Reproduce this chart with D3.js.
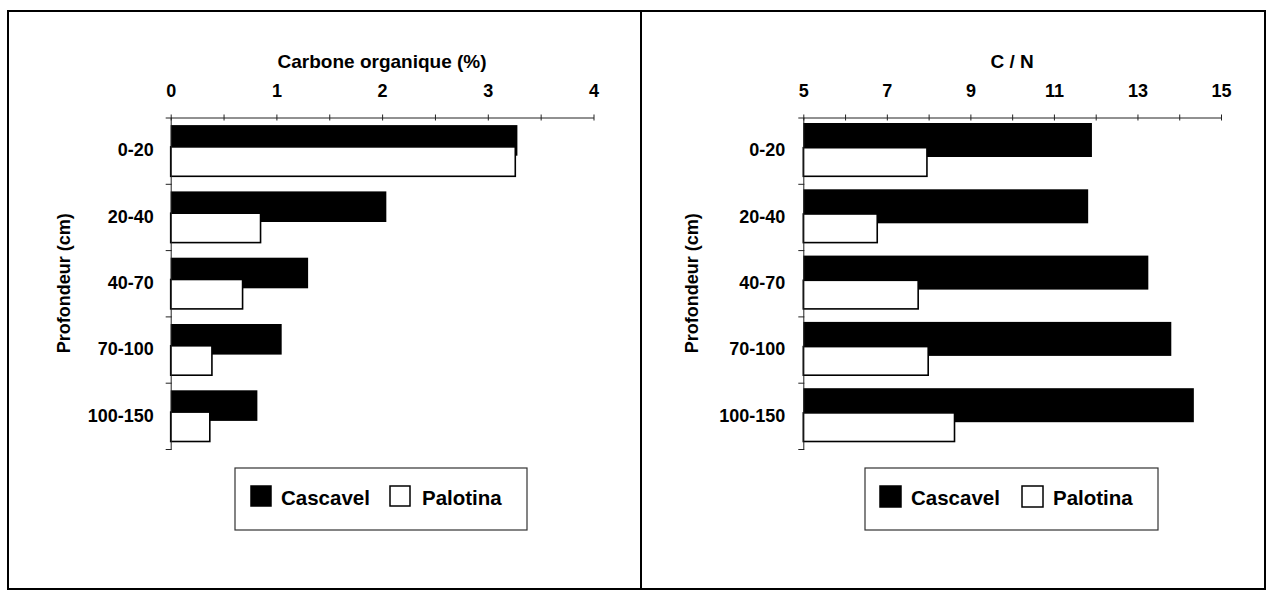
<!DOCTYPE html>
<html>
<head>
<meta charset="utf-8">
<script src="https://cdn.jsdelivr.net/npm/d3@7"></script>
<style>
  html, body { margin: 0; padding: 0; background: #fff; }
  svg { display: block; }
  text { font-family: "Liberation Sans", Arial, sans-serif; font-weight: bold; fill: #000; }
</style>
</head>
<body>
<svg id="chart" width="1273" height="597"></svg>
<script>
// ---- data ----
const categories = ["0-20", "20-40", "40-70", "70-100", "100-150"];
const seriesNames = ["Cascavel", "Palotina"];
const carboneCascavel = [3.28, 2.04, 1.30, 1.05, 0.82];
const carbonePalotina = [3.26, 0.85, 0.68, 0.39, 0.37];
const cnCascavel = [11.91, 11.82, 13.26, 13.81, 14.35];
const cnPalotina = [7.96, 6.77, 7.75, 7.99, 8.62];
const carboneTickLabels = [0, 1, 2, 3, 4];
const cnTickLabels = [5, 7, 9, 11, 13, 15];
const yTitle = "Profondeur (cm)";
const carboneTitle = "Carbone organique (%)";
const cnTitle = "C / N";

const svg = d3.select("#chart");

// outer frame + divider
svg.append("rect").attr("x", 8).attr("y", 11).attr("width", 1257).attr("height", 578)
  .attr("fill", "none").attr("stroke", "#000").attr("stroke-width", 2);
svg.append("line").attr("x1", 641).attr("x2", 641).attr("y1", 11).attr("y2", 589)
  .attr("stroke", "#000").attr("stroke-width", 2);

const plotTop = 117.5, plotBottom = 449;
const FONT = "Liberation Sans, Arial, sans-serif";

function panel(opt) {
  const g = svg.append("g");
  const x = d3.scaleLinear().domain(opt.domain).range(opt.range);
  const yb = d3.scaleBand().domain(categories).range([plotTop, plotBottom]);
  const yl = d3.scaleLinear().domain([0, categories.length]).range([plotTop, plotBottom]);
  const x0 = x(opt.domain[0]);

  // Cascavel bars (black)
  g.append("g").selectAll("rect").data(opt.casc).join("rect")
    .attr("x", x0)
    .attr("y", (d, i) => yb(categories[i]) + opt.cTop)
    .attr("width", d => x(d) - x0)
    .attr("height", opt.cH)
    .attr("fill", "#000");
  // Palotina bars (white, outlined)
  g.append("g").selectAll("rect").data(opt.palo).join("rect")
    .attr("x", x0)
    .attr("y", (d, i) => yb(categories[i]) + opt.pTop)
    .attr("width", d => x(d) - x0)
    .attr("height", opt.pH)
    .attr("fill", "#fff").attr("stroke", "#000").attr("stroke-width", 1.6);

  // top x axis: tick marks
  const ax = g.append("g").attr("transform", `translate(0,${plotTop})`)
    .call(d3.axisTop(x).tickValues(opt.minor).tickSizeOuter(0).tickSizeInner(0).tickFormat(""));
  ax.select(".domain").attr("stroke", "#222").attr("stroke-width", 1);
  ax.selectAll(".tick line").attr("y1", -3).attr("y2", 3).attr("stroke", "#222");

  // x tick labels
  const axl = g.append("g").attr("transform", `translate(0,${plotTop})`)
    .call(d3.axisTop(x).tickValues(opt.labels).tickSize(0).tickPadding(21).tickFormat(d3.format("d")));
  axl.select(".domain").remove();
  axl.selectAll("text").attr("font-size", 18).attr("font-family", FONT)
    .attr("font-weight", "bold").attr("fill", "#000");

  // left y axis with boundary ticks
  const ay = g.append("g").attr("transform", `translate(${x0},0)`)
    .call(d3.axisLeft(yl).tickValues(d3.range(0, categories.length + 1)).tickSizeOuter(0).tickSizeInner(0).tickFormat(""));
  ay.select(".domain").attr("stroke", "#222").attr("stroke-width", 1);
  ay.selectAll(".tick line").attr("x1", -5).attr("x2", 1).attr("stroke", "#222");

  // category labels
  const ayl = g.append("g").attr("transform", `translate(${x0},0)`)
    .call(d3.axisLeft(yb).tickSize(0).tickPadding(opt.catPad));
  ayl.select(".domain").remove();
  ayl.selectAll("text").attr("font-size", 18).attr("font-family", FONT)
    .attr("font-weight", "bold").attr("fill", "#000");

  // titles
  g.append("text").attr("x", (opt.range[0] + opt.range[1]) / 2).attr("y", 68)
    .attr("text-anchor", "middle").attr("font-size", 19).text(opt.title);
  g.append("text").attr("transform", `translate(${opt.yTitleX},${(plotTop + plotBottom) / 2}) rotate(-90)`)
    .attr("text-anchor", "middle").attr("font-size", 18).text(yTitle);

  // legend
  const L = opt.legend;
  g.append("rect").attr("x", L.x).attr("y", 468).attr("width", L.w).attr("height", 62)
    .attr("fill", "#fff").attr("stroke", "#333").attr("stroke-width", 1.2);
  const items = [
    {name: seriesNames[0], fill: "#000", sx: L.s1, tx: L.t1},
    {name: seriesNames[1], fill: "#fff", sx: L.s2, tx: L.t2}
  ];
  const li = g.append("g").selectAll("g").data(items).join("g");
  li.append("rect").attr("x", d => d.sx).attr("y", 486).attr("width", L.sq).attr("height", L.sq)
    .attr("fill", d => d.fill).attr("stroke", "#000").attr("stroke-width", 1.5);
  li.append("text").attr("x", d => d.tx).attr("y", 505).attr("font-size", 20.5).text(d => d.name);
}

panel({
  domain: [0, 4], range: [170.7, 593.5],
  casc: carboneCascavel, palo: carbonePalotina,
  cTop: 7.6, cH: 30.6, pTop: 29.4, pH: 29.4,
  minor: d3.range(0, 4.001, 0.5), labels: carboneTickLabels,
  catPad: 17, title: carboneTitle, yTitleX: 70,
  legend: {x: 235, w: 292, s1: 251, t1: 281, s2: 390, t2: 422, sq: 20}
});

panel({
  domain: [5, 15], range: [803.3, 1221],
  casc: cnCascavel, palo: cnPalotina,
  cTop: 5.5, cH: 34, pTop: 30.2, pH: 28.6,
  minor: d3.range(5, 15.001, 1), labels: cnTickLabels,
  catPad: 18, title: cnTitle, yTitleX: 698,
  legend: {x: 865, w: 293, s1: 880, t1: 911, s2: 1022, t2: 1053, sq: 21}
});
</script>
</body>
</html>
